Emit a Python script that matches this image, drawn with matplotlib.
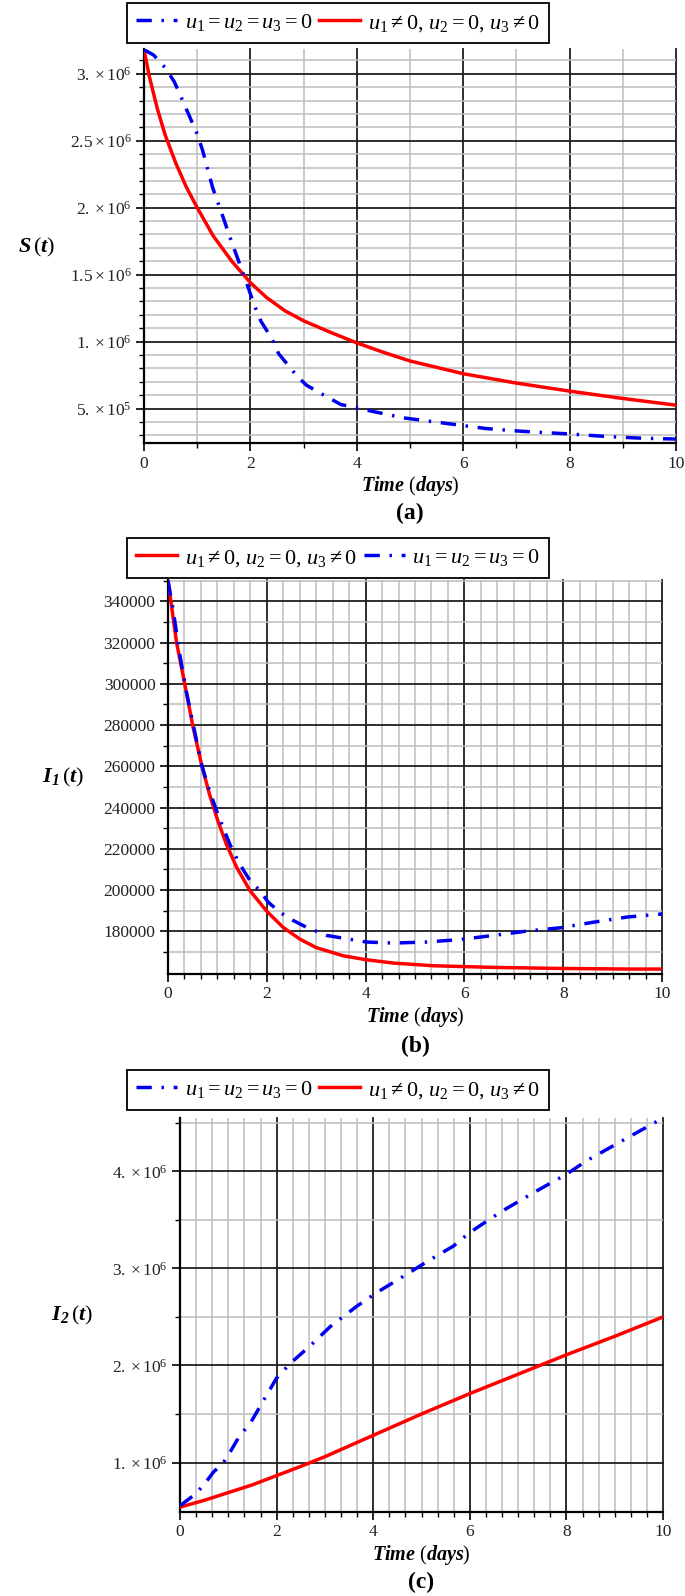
import numpy as np
import matplotlib
matplotlib.use("Agg")
import matplotlib.pyplot as plt
from matplotlib.lines import Line2D

plt.rcParams['font.family'] = ['Liberation Serif', 'DejaVu Serif']
plt.rcParams['mathtext.fontset'] = 'custom'
plt.rcParams['mathtext.rm'] = 'Liberation Serif'
plt.rcParams['mathtext.it'] = 'Liberation Serif:italic'
plt.rcParams['mathtext.bf'] = 'Liberation Serif:bold:italic'

# ---------------- data ----------------
# Panel (a): S(t)
t_a_blue = [0, 0.18, 0.41, 0.57, 0.77, 1.0, 1.1, 1.29, 1.49, 1.65, 1.78, 1.94, 2.07, 2.2, 2.4,
            2.53, 2.86, 3.05, 3.38, 3.7, 4.16, 4.88, 5.66, 6.44, 7.1, 8.0, 8.73, 9.38, 10.0]
S_blue = [3.18e6, 3.14e6, 3.04e6, 2.94e6, 2.76e6, 2.55e6, 2.43e6, 2.15e6, 1.925e6, 1.74e6, 1.6e6,
          1.425e6, 1.275e6, 1.15e6, 1.025e6, 0.91e6, 0.75e6, 0.675e6, 0.6e6, 0.53e6, 0.49e6,
          0.43e6, 0.39e6, 0.35e6, 0.33e6, 0.31e6, 0.29e6, 0.278e6, 0.272e6]
t_a_red = [0, 0.1, 0.25, 0.4, 0.6, 0.8, 1.0, 1.3, 1.65, 2.0, 2.3, 2.65, 3.0, 3.5, 4.0, 4.5,
           5.0, 6.0, 7.0, 8.0, 9.0, 10.0]
S_red = [3.18e6, 2.98e6, 2.74e6, 2.54e6, 2.33e6, 2.15e6, 2.0e6, 1.79e6, 1.6e6, 1.44e6, 1.33e6,
         1.23e6, 1.155e6, 1.07e6, 0.99e6, 0.92e6, 0.855e6, 0.76e6, 0.69e6, 0.63e6, 0.575e6,
         0.525e6]

# Panel (b): I1(t)
t_b_red = [0, 0.07, 0.17, 0.34, 0.51, 0.68, 0.84, 1.01, 1.18, 1.39, 1.66, 2.0, 2.33, 2.67, 3.0,
           3.55, 4.02, 4.56, 5.37, 6.59, 7.94, 9.3, 10.0]
I1_red = [350000, 338000, 320500, 299700, 278700, 260800, 246400, 233500, 222300, 211000, 199700,
          189700, 181900, 176200, 172100, 168100, 166200, 164600, 163300, 162500, 162000, 161700,
          161700]
t_b_blue = [0, 0.1, 0.24, 0.37, 0.51, 0.68, 0.84, 1.01, 1.25, 1.45, 1.66, 1.86, 2.03, 2.26, 2.53,
            2.8, 3.21, 3.61, 4.02, 4.56, 5.24, 5.91, 6.59, 7.26, 7.94, 8.61, 9.29, 10.0]
I1_blue = [350000, 336400, 313900, 296300, 280300, 260800, 248000, 236700, 222300, 212600, 204600,
           199700, 194100, 189300, 185300, 182000, 178000, 176400, 174800, 174300, 174800, 176000,
           178000, 180100, 181700, 184400, 186900, 188400]

# Panel (c): I2(t)
t_c_blue = [0, 0.28, 0.48, 0.69, 0.9, 1.04, 1.24, 1.45, 1.73, 2.0, 2.28, 2.69, 3.11, 3.66, 4.07,
            4.63, 5.18, 5.66, 6.0, 6.42, 6.7, 7.39, 8.0, 8.42, 9.1, 10.0]
I2_blue = [0.555e6, 0.66e6, 0.76e6, 0.9e6, 1.0e6, 1.11e6, 1.28e6, 1.4e6, 1.64e6, 1.87e6, 2.02e6,
           2.2e6, 2.4e6, 2.61e6, 2.75e6, 2.92e6, 3.09e6, 3.23e6, 3.37e6, 3.51e6, 3.6e6, 3.8e6,
           3.97e6, 4.11e6, 4.3e6, 4.55e6]
t_c_red = [0, 0.5, 1.0, 1.5, 2.0, 2.5, 3.0, 3.5, 4.0, 5.0, 6.0, 7.0, 8.0, 9.0, 10.0]
I2_red = [0.54e6, 0.61e6, 0.69e6, 0.77e6, 0.865e6, 0.96e6, 1.06e6, 1.17e6, 1.28e6, 1.5e6,
          1.71e6, 1.91e6, 2.11e6, 2.3e6, 2.5e6]

x_major = [0, 2, 4, 6, 8, 10]
x_major_labels = ['0', '2', '4', '6', '8', '10']

ya_major = [0.5e6, 1.0e6, 1.5e6, 2.0e6, 2.5e6, 3.0e6]
ya_labels = [r'$5.\times10^{5}$', r'$1.\times10^{6}$', r'$1.5\times10^{6}$',
             r'$2.\times10^{6}$', r'$2.5\times10^{6}$', r'$3.\times10^{6}$']
yb_major = [180000, 200000, 220000, 240000, 260000, 280000, 300000, 320000, 340000]
yb_labels = ['180000', '200000', '220000', '240000', '260000', '280000', '300000', '320000', '340000']
yc_major = [1e6, 2e6, 3e6, 4e6]
yc_labels = [r'$1.\times10^{6}$', r'$2.\times10^{6}$', r'$3.\times10^{6}$', r'$4.\times10^{6}$']

lab_blue = r'$u_1 = u_2 = u_3 = 0$'
lab_red = r'$u_1 \neq 0,\, u_2 = 0,\, u_3 \neq 0$'

# ---------------- figure ----------------
W, H = 685, 1596
fig = plt.figure(figsize=(W / 100, H / 100), dpi=100)

BLUE = '#0000f0'
RED = '#ff0000'
blue_ls = (0, (4.4, 2.8, 0.7, 2.8))


def make_axes(l, r, t, b):
    return fig.add_axes([l / W, 1 - b / H, (r - l) / W, (b - t) / H])


def style(ax, ylim, ymaj, ylabs, yminor, xminor):
    ax.set_xlim(0, 10)
    ax.set_ylim(*ylim)
    ax.set_xticks(x_major)
    ax.set_xticklabels(x_major_labels)
    ax.set_xticks(xminor, minor=True)
    ax.set_yticks(ymaj)
    ax.set_yticklabels(ylabs)
    ax.set_yticks(yminor, minor=True)
    ax.grid(which='minor', color='#bdbdbd', lw=1.1, zorder=0)
    ax.grid(which='major', color='#1e1e1e', lw=1.3, zorder=0)
    for gl in ax.get_xgridlines() + ax.get_ygridlines():
        gl.set_clip_on(False)
    ax.set_axisbelow(True)
    for s in ['top', 'right']:
        ax.spines[s].set_visible(False)
    for s in ['left', 'bottom']:
        ax.spines[s].set_linewidth(1.6)
        ax.spines[s].set_color('black')
    ax.tick_params(which='major', direction='out', length=6, width=1.2,
                   labelsize=12.5, pad=3, colors='black', labelcolor='#222222')
    ax.tick_params(which='minor', direction='out', length=3.5, width=1.0, colors='black')


def annotate(ax_bottom, ax_left, ax_right, ylab, ylab_x, ylab_y, panel, panel_y):
    cx = (ax_left + ax_right) / 2
    fig.text(cx / W, 1 - (ax_bottom + 43) / H, r'$\mathbf{Time}\ (\mathbf{days})$',
             ha='center', va='center', fontsize=14.5)
    fig.text(cx / W, 1 - panel_y / H, panel, ha='center', va='center', fontsize=17,
             fontweight='bold')
    fig.text(ylab_x / W, 1 - ylab_y / H, ylab, ha='center', va='center', fontsize=16)


def legend(handles, labels, cy):
    leg = fig.legend(handles, labels, loc='center', bbox_to_anchor=(338 / W, 1 - cy / H), ncol=2,
                     frameon=True, fancybox=False, edgecolor='black', framealpha=1,
                     fontsize=16, handlelength=1.85, handletextpad=0.35, columnspacing=0.3,
                     borderpad=0.42, borderaxespad=0)
    leg.get_frame().set_linewidth(1.3)


hb = Line2D([], [], color=BLUE, lw=2.5, ls=blue_ls)
hr = Line2D([], [], color=RED, lw=2.5)

# Panel (a)
axa = make_axes(144, 676, 49, 443)
axa.plot(t_a_red, S_red, color=RED, lw=2.5, zorder=3)
axa.plot(t_a_blue, S_blue, color=BLUE, lw=2.5, ls=blue_ls, zorder=4)
style(axa, (0.2425e6, 3.185e6), ya_major, ya_labels,
      [v * 1e5 for v in range(3, 32) if v % 5 != 0], [1, 3, 5, 7, 9])
legend([hb, hr], [lab_blue, lab_red], 23)
annotate(443, 144, 676, r'$\mathbf{S}\,(\mathbf{t})$', 37, 247, '(a)', 513)

# Panel (b)
axb = make_axes(168, 662, 580, 974)
axb.plot(t_b_red, I1_red, color=RED, lw=2.5, zorder=3)
axb.plot(t_b_blue, I1_blue, color=BLUE, lw=2.5, ls=blue_ls, zorder=4)
style(axb, (159300, 350300), yb_major, yb_labels,
      [170000 + 20000 * k for k in range(10)], [k / 3 for k in range(31) if k % 6 != 0])
legend([hr, hb], [lab_red, lab_blue], 558)
annotate(974, 168, 662, r'$\mathbf{I}_{\mathbf{1}}\,(\mathbf{t})$', 63, 777, '(b)', 1046)

# Panel (c)
axc = make_axes(180, 663, 1118, 1512)
axc.plot(t_c_red, I2_red, color=RED, lw=2.5, zorder=3)
axc.plot(t_c_blue, I2_blue, color=BLUE, lw=2.5, ls=blue_ls, zorder=4)
style(axc, (0.49e6, 4.55e6), yc_major, yc_labels,
      [1.5e6, 2.5e6, 3.5e6, 4.5e6], [k / 3 for k in range(31) if k % 6 != 0])
legend([hb, hr], [lab_blue, lab_red], 1090)
annotate(1512, 180, 663, r'$\mathbf{I}_{\mathbf{2}}\,(\mathbf{t})$', 72, 1315, '(c)', 1582)

fig.savefig('out.png', dpi=100)
